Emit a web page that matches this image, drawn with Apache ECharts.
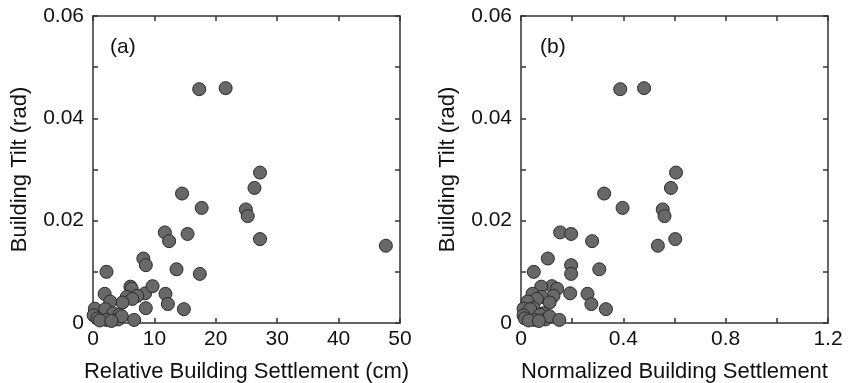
<!DOCTYPE html>
<html>
<head>
<meta charset="utf-8">
<script src="https://cdn.jsdelivr.net/npm/echarts@6/dist/echarts.min.js"></script>
<style>
  html, body { margin: 0; padding: 0; background: #fff; }
  #chart { width: 852px; height: 383px; }
</style>
</head>
<body>
<div id="chart"></div>
<script>
// building tilt (rad), one value per building, shared by both panels
const tilt = [
  0.0457, 0.0459, 0.0294, 0.0264, 0.0253, 0.0225, 0.0222, 0.0209,
  0.0177, 0.0174, 0.0160, 0.0164, 0.0151, 0.0126, 0.0113, 0.0105,
  0.0096, 0.0100, 0.0057, 0.0037, 0.0027, 0.0058, 0.0072, 0.0071,
  0.0067, 0.0057, 0.0053, 0.0051, 0.0047, 0.0040, 0.0042, 0.0029,
  0.0028, 0.0027, 0.0019, 0.0015, 0.0016, 0.0009, 0.0006, 0.0007,
  0.0013, 0.0006, 0.0005, 0.0004
];
// relative building settlement (cm)
const relSettlement = [
  17.3, 21.6, 27.2, 26.3, 14.5, 17.7, 24.9, 25.2,
  11.7, 15.4, 12.4, 27.2, 47.7, 8.2, 8.6, 13.6,
  17.4, 2.2, 11.8, 12.2, 14.8, 8.5, 9.7, 6.1,
  6.3, 1.9, 7.2, 5.5, 6.4, 4.8, 2.8, 8.6,
  0.3, 2.0, 3.3, 0.1, 4.3, 0.7, 2.2, 4.1,
  4.7, 6.7, 1.1, 3.0
];
// normalized building settlement
const normSettlement = [
  0.388, 0.481, 0.606, 0.586, 0.325, 0.397, 0.554, 0.561,
  0.153, 0.196, 0.278, 0.603, 0.535, 0.105, 0.196, 0.306,
  0.196, 0.050, 0.260, 0.275, 0.332, 0.192, 0.121, 0.079,
  0.141, 0.045, 0.127, 0.082, 0.062, 0.112, 0.026, 0.049,
  0.010, 0.036, 0.088, 0.010, 0.075, 0.015, 0.053, 0.095,
  0.112, 0.150, 0.030, 0.070
];
const xTicksA = [0, 10, 20, 30, 40, 50];
const xLabelsB = ['0', '0.4', '0.8', '1.2'];
const yLabels = ['0', '0.02', '0.04', '0.06'];

const font = "'Liberation Sans', Arial, sans-serif";
const axisColor = '#333';

const chart = echarts.init(document.getElementById('chart'));

function frameAxis(gridIndex, position, min, max, interval) {
  return {
    type: 'value', gridIndex, position, min, max, interval,
    axisLine: { show: true, onZero: false, lineStyle: { color: axisColor, width: 1.5 } },
    axisTick: { show: true, inside: true, length: 5, lineStyle: { color: axisColor, width: 1.5 } },
    axisLabel: { show: false },
    splitLine: { show: false }
  };
}

function mainY(gridIndex) {
  return {
    type: 'value', gridIndex, min: 0, max: 0.06, interval: 0.01,
    name: 'Building Tilt (rad)', nameLocation: 'middle', nameGap: 62,
    nameTextStyle: { fontFamily: font, fontSize: 22, color: '#111' },
    axisLine: { show: true, onZero: false, lineStyle: { color: axisColor, width: 1.5 } },
    axisTick: { show: true, inside: true, length: 5, lineStyle: { color: axisColor, width: 1.5 } },
    axisLabel: {
      fontFamily: font, fontSize: 21, color: '#111', margin: 9,
      formatter: v => {
        const k = Math.round(v * 100);
        return k % 2 === 0 ? yLabels[k / 2] : '';
      }
    },
    splitLine: { show: false }
  };
}

const option = {
  animation: false,
  backgroundColor: '#fff',
  title: [
    { text: '(a)', left: 105, top: 32, textStyle: { fontFamily: font, fontSize: 21, fontWeight: 'normal', color: '#111' } },
    { text: '(b)', left: 535, top: 32, textStyle: { fontFamily: font, fontSize: 21, fontWeight: 'normal', color: '#111' } }
  ],
  grid: [
    { left: 93, top: 16, width: 307, height: 307, outerBoundsMode: 'none' },
    { left: 521, top: 16, width: 307, height: 307, outerBoundsMode: 'none' }
  ],
  xAxis: [
    {
      type: 'value', gridIndex: 0, min: 0, max: 50, interval: 10,
      name: 'Relative Building Settlement (cm)', nameLocation: 'middle', nameGap: 38,
      nameTextStyle: { fontFamily: font, fontSize: 22, color: '#111' },
      axisLine: { show: true, onZero: false, lineStyle: { color: axisColor, width: 1.5 } },
      axisTick: { show: true, inside: true, length: 5, lineStyle: { color: axisColor, width: 1.5 } },
      axisLabel: {
        fontFamily: font, fontSize: 21, color: '#111', margin: 6,
        formatter: v => String(xTicksA[Math.round(v / 10)])
      },
      splitLine: { show: false }
    },
    {
      type: 'value', gridIndex: 1, min: 0, max: 1.2, interval: 0.2,
      name: 'Normalized Building Settlement', nameLocation: 'middle', nameGap: 38,
      nameTextStyle: { fontFamily: font, fontSize: 22, color: '#111' },
      axisLine: { show: true, onZero: false, lineStyle: { color: axisColor, width: 1.5 } },
      axisTick: { show: true, inside: true, length: 5, lineStyle: { color: axisColor, width: 1.5 } },
      axisLabel: {
        fontFamily: font, fontSize: 21, color: '#111', margin: 6,
        formatter: v => {
          const k = Math.round(v * 10);
          return k % 4 === 0 ? xLabelsB[k / 4] : '';
        }
      },
      splitLine: { show: false }
    },
    frameAxis(0, 'top', 0, 50, 10),
    frameAxis(1, 'top', 0, 1.2, 0.2)
  ],
  yAxis: [
    mainY(0),
    mainY(1),
    frameAxis(0, 'right', 0, 0.06, 0.01),
    frameAxis(1, 'right', 0, 0.06, 0.01)
  ],
  series: [
    {
      type: 'scatter', xAxisIndex: 0, yAxisIndex: 0,
      symbolSize: 13,
      itemStyle: { color: '#686868', borderColor: '#2a2a2a', borderWidth: 1, opacity: 1 },
      data: relSettlement.map((x, i) => [x, tilt[i]])
    },
    {
      type: 'scatter', xAxisIndex: 1, yAxisIndex: 1,
      symbolSize: 13,
      itemStyle: { color: '#686868', borderColor: '#2a2a2a', borderWidth: 1, opacity: 1 },
      data: normSettlement.map((x, i) => [x, tilt[i]])
    }
  ]
};

chart.setOption(option);
</script>
</body>
</html>
